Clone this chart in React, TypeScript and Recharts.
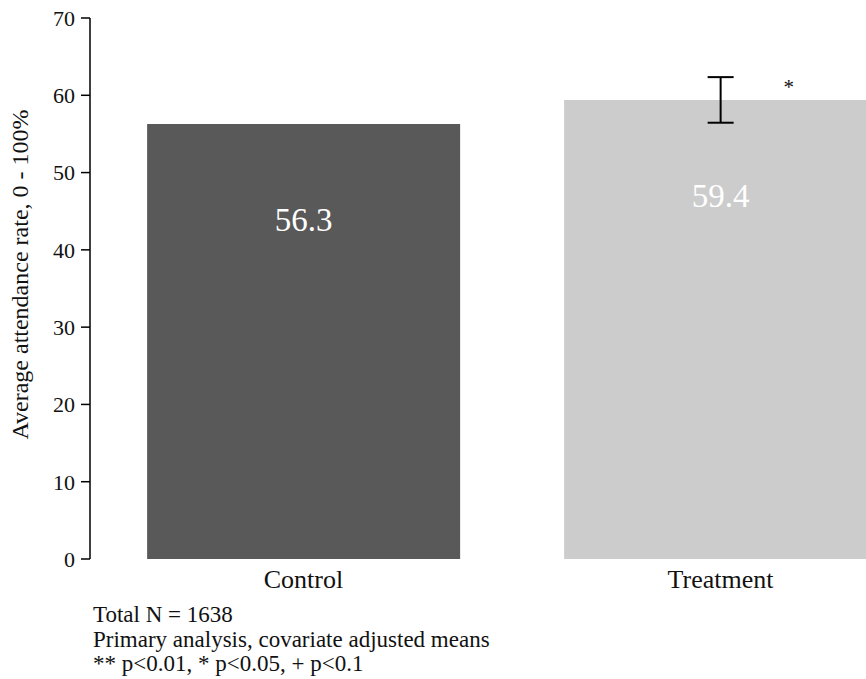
import React from "react";
import {
  BarChart,
  Bar,
  XAxis,
  YAxis,
  Cell,
  ErrorBar,
  LabelList,
} from "recharts";

const groups = ["Control", "Treatment"];
const means = [56.3, 59.4];
const errors: (number | null)[] = [null, 2.95];
const stars = ["", "*"];
const barColors = ["#595959", "#cccccc"];
const yTicks = [0, 10, 20, 30, 40, 50, 60, 70];
const notes = [
  "Total N = 1638",
  "Primary analysis, covariate adjusted means",
  "** p<0.01, * p<0.05, + p<0.1",
];

const FONT = '"Liberation Serif", "Times New Roman", serif';
const INK = "#111";

const data = groups.map((g, i) => ({
  group: g,
  mean: means[i],
  err: errors[i],
  star: stars[i],
}));

function ValueLabel(props: any) {
  const { x, y, width, value } = props;
  return (
    <text
      x={x + width / 2}
      y={y + 96}
      textAnchor="middle"
      dominantBaseline="central"
      fill="#fff"
      fontSize={33}
      fontFamily={FONT}
    >
      {Number(value).toFixed(1)}
    </text>
  );
}

function StarLabel(props: any) {
  const { x, y, width, value } = props;
  if (!value) return null;
  return (
    <text
      x={x + width / 2 + 68}
      y={y - 13}
      textAnchor="middle"
      dominantBaseline="central"
      fill={INK}
      fontSize={21}
      fontFamily={FONT}
    >
      {value}
    </text>
  );
}

function YLabel(props: any) {
  const { viewBox } = props;
  const cy = viewBox.y + viewBox.height / 2 - 14;
  return (
    <text
      x={20}
      y={cy}
      transform={`rotate(-90, 20, ${cy})`}
      textAnchor="middle"
      dominantBaseline="central"
      fill={INK}
      fontSize={24}
      fontFamily={FONT}
    >
      Average attendance rate, 0 - 100%
    </text>
  );
}

export default function App() {
  return (
    <div
      style={{
        position: "fixed",
        left: 0,
        top: 0,
        width: 866,
        height: 679,
        overflow: "hidden",
        background: "#fff",
        fontFamily: FONT,
        color: INK,
      }}
    >
      <BarChart
        width={929}
        height={600}
        data={data}
        margin={{ top: 18, right: 0, left: 0, bottom: 0 }}
        barCategoryGap="12.5%"
      >
        <XAxis
          dataKey="group"
          axisLine={false}
          tickLine={false}
          tickSize={6}
          tickMargin={5}
          height={41}
          padding={{ left: 5, right: 0 }}
          tick={{ fontSize: 26, fill: INK, fontFamily: FONT }}
        />
        <YAxis
          domain={[0, 70]}
          ticks={yTicks}
          width={90}
          tickSize={9}
          tickMargin={6}
          axisLine={{ stroke: "#000", strokeWidth: 1.5 }}
          tickLine={{ stroke: "#000", strokeWidth: 1.5 }}
          tick={{ fontSize: 22, fill: INK, fontFamily: FONT }}
          label={<YLabel />}
        />
        <Bar dataKey="mean" isAnimationActive={false}>
          {data.map((d, i) => (
            <Cell key={d.group} fill={barColors[i]} />
          ))}
          <ErrorBar
            dataKey="err"
            direction="y"
            width={13}
            stroke="#000"
            strokeWidth={2}
          />
          <LabelList dataKey="mean" content={<ValueLabel />} />
          <LabelList dataKey="star" content={<StarLabel />} />
        </Bar>
      </BarChart>
      <div
        style={{
          position: "absolute",
          left: 93,
          top: 603,
          fontSize: 23,
          lineHeight: "24.5px",
          whiteSpace: "nowrap",
        }}
      >
        {notes.map((n) => (
          <div key={n}>{n}</div>
        ))}
      </div>
    </div>
  );
}
